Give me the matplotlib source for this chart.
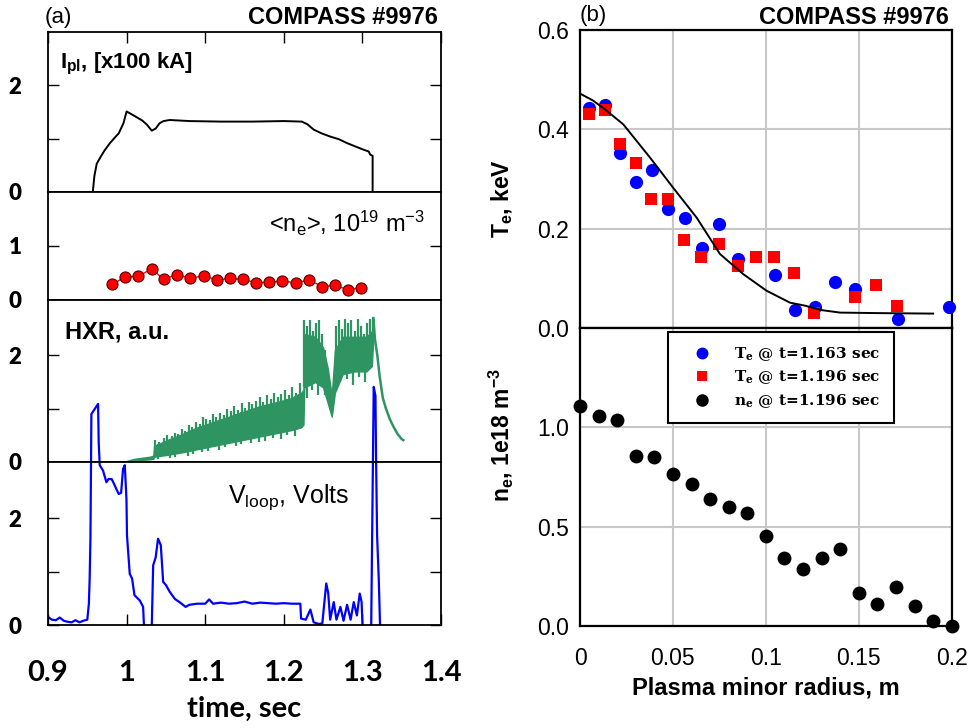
import matplotlib
matplotlib.use('Agg')
import matplotlib.pyplot as plt
import numpy as np
from matplotlib.patches import Rectangle

# ---------------- data (panel a) ----------------
ipl_t = [0.957, 0.959, 0.962, 0.967, 0.972, 0.979, 0.985, 0.990, 0.996, 1.000, 1.006, 1.013,
         1.020, 1.026, 1.032, 1.037, 1.042, 1.047, 1.055, 1.080, 1.120, 1.160, 1.200, 1.223,
         1.230, 1.238, 1.248, 1.259, 1.270, 1.280, 1.290, 1.302, 1.308, 1.310, 1.313, 1.313]
ipl_v = [0.0, 0.30, 0.53, 0.66, 0.78, 0.92, 1.02, 1.10, 1.29, 1.51, 1.46, 1.40,
         1.34, 1.26, 1.15, 1.19, 1.29, 1.33, 1.35, 1.33, 1.32, 1.32, 1.33, 1.32,
         1.27, 1.17, 1.10, 1.04, 0.99, 0.92, 0.86, 0.79, 0.76, 0.70, 0.68, 0.0]

ne_t = [0.982, 0.998, 1.015, 1.032, 1.047, 1.064, 1.081, 1.098, 1.115, 1.131,
        1.148, 1.165, 1.181, 1.198, 1.215, 1.232, 1.249, 1.265, 1.282, 1.298]
ne_v = [0.29, 0.43, 0.44, 0.58, 0.38, 0.47, 0.40, 0.45, 0.37, 0.40,
        0.38, 0.32, 0.33, 0.35, 0.32, 0.37, 0.25, 0.27, 0.19, 0.23]

# HXR: bulk band (lower / upper edge), upward spikes and downward dips
hxr_t = [1.000, 1.010, 1.020, 1.030, 1.034, 1.035, 1.050, 1.070, 1.090, 1.110, 1.130, 1.150,
         1.170, 1.190, 1.210, 1.222, 1.225, 1.226, 1.240, 1.250, 1.256, 1.261, 1.265, 1.275,
         1.290, 1.305, 1.312, 1.314]
hxr_lo = [0.00, 0.03, 0.04, 0.05, 0.06, 0.10, 0.13, 0.18, 0.24, 0.30, 0.36, 0.42,
          0.48, 0.54, 0.60, 0.65, 0.70, 1.40, 1.50, 1.40, 1.10, 0.85, 1.30, 1.65,
          1.70, 1.70, 1.80, 2.40]
hxr_band = [0.02, 0.06, 0.08, 0.10, 0.12, 0.30, 0.40, 0.52, 0.65, 0.75, 0.85, 0.95,
            1.05, 1.12, 1.20, 1.30, 1.35, 2.40, 2.35, 2.15, 1.75, 1.25, 2.10, 2.35,
            2.35, 2.35, 2.45, 2.70]
spike_t = [1.036, 1.041, 1.047, 1.052, 1.058, 1.061, 1.066, 1.071, 1.074, 1.079, 1.083, 1.088,
           1.093, 1.097, 1.101, 1.106, 1.110, 1.114, 1.119, 1.124, 1.128, 1.133, 1.137, 1.142,
           1.147, 1.151, 1.156, 1.160, 1.165, 1.170, 1.174, 1.179, 1.184, 1.188, 1.193, 1.197,
           1.202, 1.206, 1.211, 1.216, 1.220, 1.226, 1.229, 1.233, 1.237, 1.241, 1.245, 1.249,
           1.253, 1.267, 1.270, 1.274, 1.278, 1.282, 1.286, 1.290, 1.294, 1.298, 1.302, 1.306,
           1.310, 1.313]
spike_v = [0.42, 0.38, 0.45, 0.50, 0.48, 0.55, 0.52, 0.62, 0.58, 0.70, 0.66, 0.76,
           0.72, 0.85, 0.80, 0.78, 0.90, 0.84, 0.92, 0.88, 1.00, 0.95, 1.05, 0.98,
           1.10, 1.02, 1.12, 1.08, 1.15, 1.22, 1.12, 1.25, 1.18, 1.30, 1.22, 1.28,
           1.35, 1.25, 1.40, 1.30, 1.48, 2.66, 2.55, 2.66, 2.45, 2.60, 2.66, 2.40,
           2.10, 2.55, 2.66, 2.50, 2.68, 2.60, 2.66, 2.45, 2.68, 2.55, 2.40, 2.60,
           2.68, 2.70]
dip_t = [1.040, 1.055, 1.062, 1.078, 1.085, 1.096, 1.104, 1.117, 1.125, 1.139, 1.146, 1.158,
         1.168, 1.176, 1.186, 1.196, 1.204, 1.214, 1.230, 1.236, 1.244, 1.272, 1.281, 1.288,
         1.296, 1.303]
dip_v = [0.05, 0.08, 0.10, 0.12, 0.15, 0.18, 0.20, 0.22, 0.28, 0.30, 0.33, 0.36,
         0.38, 0.40, 0.45, 0.44, 0.50, 0.48, 1.20, 1.35, 1.25, 1.50, 1.55, 1.45,
         1.60, 1.50]
hxr_tail_t = [1.314, 1.316, 1.319, 1.322, 1.326, 1.330, 1.335, 1.340, 1.345, 1.350, 1.352]
hxr_tail_v = [2.70, 2.30, 2.00, 1.60, 1.20, 1.00, 0.80, 0.65, 0.52, 0.43, 0.41]

vloop_t = [0.900, 0.905, 0.910, 0.915, 0.920, 0.925, 0.930, 0.935, 0.940, 0.945, 0.950, 0.952,
           0.953, 0.954, 0.9552, 0.9637, 0.9645, 0.9658, 0.970, 0.9743, 0.977, 0.981, 0.984,
           0.987, 0.990, 0.993, 0.9955, 0.9977, 0.9998, 1.0005, 1.004, 1.007, 1.010, 1.0168,
           1.021, 1.023, 1.0316, 1.0338, 1.037, 1.040, 1.0435, 1.0465, 1.050, 1.055, 1.0614,
           1.070, 1.075, 1.080, 1.090, 1.100, 1.105, 1.110, 1.120, 1.130, 1.140, 1.150, 1.160,
           1.170, 1.180, 1.190, 1.200, 1.210, 1.221, 1.222, 1.228, 1.2338, 1.238, 1.2444,
           1.249, 1.254, 1.2565, 1.259, 1.2635, 1.267, 1.272, 1.276, 1.2805, 1.285, 1.289,
           1.293, 1.2966, 1.299, 1.3009, 1.311, 1.3144, 1.3166, 1.3175, 1.3187, 1.3208, 1.323]
vloop_v = [0.15, 0.10, 0.09, 0.14, 0.08, 0.06, 0.05, 0.09, 0.05, 0.08, 0.10, 0.40,
           0.87, 1.62, 3.96, 4.15, 3.43, 3.00, 2.90, 2.68, 2.74, 2.74, 2.65,
           2.55, 2.46, 2.48, 2.93, 3.00, 2.37, 1.68, 0.96, 0.87, 0.56, 0.46,
           0.34, -0.3, -0.3, 1.12, 1.27, 1.62, 1.50, 0.81, 0.75, 0.62, 0.49,
           0.40, 0.34, 0.38, 0.40, 0.40, 0.48, 0.40, 0.42, 0.40, 0.41, 0.44, 0.40,
           0.42, 0.41, 0.40, 0.41, 0.40, 0.40, 0.12, 0.10, 0.29, 0.05, 0.02,
           0.03, 0.78, 0.60, 0.10, 0.43, 0.10, 0.34, 0.08, 0.38, 0.10, 0.43,
           0.18, 0.59, 0.43, -0.3, -0.3, 4.47, 4.30, 3.00, 1.68, 0.87, -0.3]

time_ticks = [0.9, 1.0, 1.1, 1.2, 1.3, 1.4]
time_labels = ['0.9', '1', '1.1', '1.2', '1.3', '1.4']

# ---------------- data (panel b) ----------------
te1_r = [0.005, 0.0135, 0.0215, 0.030, 0.0386, 0.0475, 0.0565, 0.0655, 0.075, 0.085,
         0.105, 0.1157, 0.1264, 0.137, 0.148, 0.171, 0.1987]
te1_v = [0.442, 0.449, 0.353, 0.293, 0.318, 0.239, 0.222, 0.161, 0.210, 0.139,
         0.107, 0.036, 0.043, 0.093, 0.078, 0.019, 0.043]
te2_r = [0.005, 0.0132, 0.0215, 0.030, 0.038, 0.0475, 0.056, 0.065, 0.0746, 0.085,
         0.0946, 0.1046, 0.1152, 0.1259, 0.148, 0.159, 0.1707]
te2_v = [0.430, 0.439, 0.371, 0.333, 0.260, 0.260, 0.177, 0.142, 0.169, 0.125,
         0.142, 0.142, 0.110, 0.031, 0.062, 0.087, 0.045]
fit_r = [0.0, 0.007, 0.0135, 0.0233, 0.0377, 0.05, 0.0628, 0.0753, 0.088, 0.1004,
         0.113, 0.121, 0.130, 0.140, 0.160, 0.190]
fit_v = [0.472, 0.458, 0.440, 0.410, 0.343, 0.283, 0.222, 0.149, 0.108, 0.075,
         0.051, 0.045, 0.036, 0.031, 0.030, 0.029]
ne_r = [0.00, 0.01, 0.02, 0.03, 0.04, 0.05, 0.06, 0.07, 0.08, 0.09, 0.10,
        0.11, 0.12, 0.13, 0.14, 0.15, 0.16, 0.17, 0.18, 0.19, 0.20]
ne_prof = [1.106, 1.057, 1.035, 0.856, 0.851, 0.767, 0.714, 0.637, 0.600, 0.571, 0.452,
           0.340, 0.285, 0.340, 0.387, 0.164, 0.109, 0.197, 0.100, 0.027, 0.0]
legend_labels = [r'T$\mathregular{_e}$ @ t=1.163 sec',
                 r'T$\mathregular{_e}$ @ t=1.196 sec',
                 r'n$\mathregular{_e}$ @ t=1.196 sec']

# ---------------- figure ----------------
SANS = 'Liberation Sans'
CAL = 'Lato'
fig = plt.figure(figsize=(9.71, 7.28), dpi=100)

W, H = 971.0, 728.0
def fx(px):
    return px / W
def fy(py):
    return 1 - py / H

gsl = fig.add_gridspec(4, 1, left=fx(48), right=fx(441), top=fy(32), bottom=fy(625),
                       hspace=0, height_ratios=[160, 108, 162, 163])
ax1 = fig.add_subplot(gsl[0])
ax2 = fig.add_subplot(gsl[1])
ax3 = fig.add_subplot(gsl[2])
ax4 = fig.add_subplot(gsl[3])
left_axes = [ax1, ax2, ax3, ax4]

ylims = [(0, 3), (0, 2), (0, 3.04), (0, 3.06)]
yt = [[0, 1, 2], [0, 1], [0, 1, 2], [0, 1, 2]]
ytl = [['0', '', '2'], ['0', '1'], ['0', '', '2'], ['0', '', '2']]
for ax, yl, t, tl in zip(left_axes, ylims, yt, ytl):
    ax.set_xlim(0.9, 1.4)
    ax.set_ylim(*yl)
    ax.set_yticks(t)
    ax.set_yticklabels(tl, fontfamily=CAL, fontweight='heavy', fontsize=16)
    ax.set_xticks(time_ticks)
    ax.tick_params(axis='both', direction='in', length=8, width=1.0,
                   left=True, right=True, top=False, bottom=False, labelbottom=False)
    ax.tick_params(axis='y', pad=19)
    for s in ax.spines.values():
        s.set_linewidth(1.3)
ax1.tick_params(top=True)
ax4.tick_params(axis='x', bottom=True, labelbottom=True, pad=25)
ax4.set_xticklabels(time_labels, fontfamily=CAL, fontweight='bold', fontsize=21)
ax4.set_xlabel('time, sec', fontfamily=CAL, fontweight='bold', fontsize=21, labelpad=7)

# Ipl
ax1.plot(ipl_t, ipl_v, color='black', lw=1.4)
ax1.text(0.03, 0.80, r'I$\mathregular{_{pl}}$, [x100 kA]', transform=ax1.transAxes,
         fontfamily=SANS, fontweight='bold', fontsize=16, va='center', ha='left')

# ne
ax2.plot(ne_t, ne_v, color='red', lw=1.0, marker='o', markersize=8,
         markerfacecolor='red', markeredgecolor='#550000', markeredgewidth=0.8)
ax2.text(0.96, 0.71, r'<n$\mathregular{_e}$>, 10$\mathregular{^{19}}$ m$\mathregular{^{-3}}$',
         transform=ax2.transAxes, fontfamily=SANS, fontsize=17, va='center', ha='right')

# HXR
green = '#2e9462'
ax3.fill_between(hxr_t, hxr_lo, hxr_band, color=green, lw=1.0, edgecolor=green)
ax3.vlines(spike_t, np.interp(spike_t, hxr_t, hxr_lo), spike_v, color=green, lw=1.6)
ax3.vlines(dip_t, dip_v, np.interp(dip_t, hxr_t, hxr_band), color=green, lw=1.6)
ax3.plot(hxr_tail_t, hxr_tail_v, color=green, lw=1.8)
ax3.text(0.043, 0.80, 'HXR, a.u.', transform=ax3.transAxes, fontfamily=SANS,
         fontweight='bold', fontsize=17, va='center', ha='left')

# Vloop (allowed to extend above its panel, clipped at the bottom)
ln, = ax4.plot(vloop_t, vloop_v, color='blue', lw=1.6)
clip = Rectangle((0, 0), 1, 3.0, transform=ax4.transAxes)
ln.set_clip_path(clip)
ax4.text(0.767, 0.787, r'V$\mathregular{_{loop}}$, Volts', transform=ax4.transAxes,
         fontfamily=SANS, fontsize=18, va='center', ha='right')

fig.text(fx(45), fy(18), '(a)', fontfamily=SANS, fontsize=16, va='center', ha='left')
fig.text(fx(438), fy(18), 'COMPASS #9976', fontfamily=SANS, fontweight='bold',
         fontsize=17, va='center', ha='right')

# ---------------- panel b ----------------
gsr = fig.add_gridspec(2, 1, left=fx(580), right=fx(951.7), top=fy(30), bottom=fy(626),
                       hspace=0)
axT = fig.add_subplot(gsr[0])
axN = fig.add_subplot(gsr[1])
for ax in (axT, axN):
    ax.set_xlim(0, 0.2)
    ax.set_xticks([0, 0.05, 0.1, 0.15, 0.2])
    ax.grid(True, color='#c8c8c8', lw=1.5)
    ax.set_axisbelow(True)
    ax.tick_params(length=0, pad=8)
    for s in ax.spines.values():
        s.set_linewidth(1.6)
axT.set_ylim(0, 0.6)
axT.set_yticks([0.0, 0.2, 0.4, 0.6])
axT.set_yticklabels(['0.0', '0.2', '0.4', '0.6'], fontfamily=SANS, fontsize=16.5)
axT.tick_params(labelbottom=False)
axN.set_ylim(0, 1.5)
axN.set_yticks([0.0, 0.5, 1.0, 1.5])
axN.set_yticklabels(['0.0', '0.5', '1.0', ''], fontfamily=SANS, fontsize=16.5)
axN.set_xticklabels(['0', '0.05', '0.1', '0.15', '0.2'], fontfamily=SANS, fontsize=16.5)
axN.tick_params(axis='x', pad=15)

h1, = axT.plot(te1_r, te1_v, 'o', color='blue', markersize=9.5, markeredgewidth=0,
               clip_on=False, zorder=3)
h2, = axT.plot(te2_r, te2_v, 's', color='red', markersize=8.5, markeredgewidth=0,
               clip_on=False, zorder=3)
axT.plot(fit_r, fit_v, color='black', lw=1.4, zorder=4)
h3, = axN.plot(ne_r, ne_prof, 'o', color='black', markersize=10, markeredgewidth=0,
               clip_on=False, zorder=3)

axT.set_ylabel(r'T$\mathregular{_e}$, keV', fontfamily=SANS, fontweight='bold', fontsize=16.5)
axT.yaxis.set_label_coords(-0.175, 0.435)
axN.set_ylabel(r'n$\mathregular{_e}$, 1e18 m$\mathregular{^{-3}}$', fontfamily=SANS,
               fontweight='bold', fontsize=16.5)
axN.yaxis.set_label_coords(-0.175, 0.64)
axN.set_xlabel('Plasma minor radius, m', fontfamily=SANS, fontweight='bold', fontsize=17,
               labelpad=5)

leg = axN.legend([h1, h2, h3], legend_labels, loc='upper left',
                 bbox_to_anchor=(fx(668), fy(332)), bbox_transform=fig.transFigure,
                 borderaxespad=0, fancybox=False, framealpha=1, edgecolor='black',
                 prop={'family': 'DejaVu Serif', 'weight': 'bold', 'size': 11},
                 handletextpad=0.8, labelspacing=0.38, borderpad=0.85, handlelength=2.7,
                 markerscale=0.9)
leg.get_frame().set_linewidth(1.5)
leg.set_zorder(10)

fig.text(fx(580), fy(15), '(b)', fontfamily=SANS, fontsize=16, va='center', ha='left')
fig.text(fx(949), fy(17), 'COMPASS #9976', fontfamily=SANS, fontweight='bold',
         fontsize=17, va='center', ha='right')

fig.savefig('out.png', dpi=100)
